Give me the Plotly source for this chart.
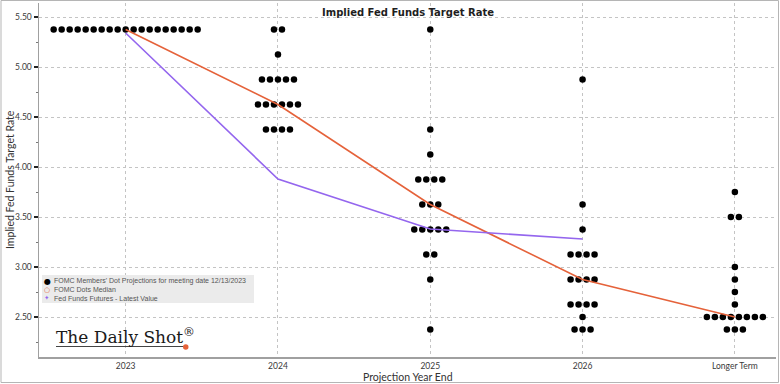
import plotly.graph_objects as go

# ---------------- data ----------------
categories = ["2023", "2024", "2025", "2026", "Longer Term"]

# FOMC members' dot projections: rate levels and number of dots at each level
dot_levels_2023 = [5.375]
dot_counts_2023 = [19]

dot_levels_2024 = [5.375, 5.125, 4.875, 4.625, 4.375]
dot_counts_2024 = [2, 1, 5, 6, 4]

dot_levels_2025 = [5.375, 4.375, 4.125, 3.875, 3.625, 3.375, 3.125, 2.875, 2.375]
dot_counts_2025 = [1, 1, 1, 4, 3, 5, 2, 1, 1]

dot_levels_2026 = [4.875, 3.625, 3.375, 3.125, 2.875, 2.625, 2.5, 2.375]
dot_counts_2026 = [1, 1, 1, 4, 4, 4, 1, 3]

dot_levels_lt = [3.75, 3.5, 3.0, 2.875, 2.75, 2.625, 2.5, 2.375]
dot_counts_lt = [1, 2, 1, 1, 1, 1, 8, 3]

median_values = [5.375, 4.625, 3.625, 2.875, 2.5]
futures_categories = ["2023", "2024", "2025", "2026"]
futures_values = [5.34, 3.88, 3.38, 3.28]

y_tick_values = [2.5, 3.0, 3.5, 4.0, 4.5, 5.0, 5.5]

# ---------------- layout constants ----------------
W, H = 780, 384
L, R, T, B = 39, 776, 3, 357
PW, PH = R - L, B - T
X_RANGE = [-0.569, 4.27]
Y_RANGE = [2.10, 5.64]
DOT_SPACING = 8 / 152.3  # horizontal spacing of dots in category units


def px_x(px):
    return (px - L) / PW


def px_y(py):
    return (B - py) / PH


cat_index = {c: i for i, c in enumerate(categories)}

all_levels = [dot_levels_2023, dot_levels_2024, dot_levels_2025, dot_levels_2026, dot_levels_lt]
all_counts = [dot_counts_2023, dot_counts_2024, dot_counts_2025, dot_counts_2026, dot_counts_lt]

dot_x, dot_y = [], []
for ci, (levels, counts) in enumerate(zip(all_levels, all_counts)):
    for lv, n in zip(levels, counts):
        for k in range(n):
            dot_x.append(ci + (k - (n - 1) / 2) * DOT_SPACING)
            dot_y.append(lv)

ORANGE = "#E5623A"
PURPLE = "#9466EE"

fig = go.Figure()
fig.add_trace(go.Scatter(
    x=dot_x, y=dot_y, mode="markers",
    marker=dict(color="black", size=6.5, line=dict(width=0)),
    showlegend=False, hoverinfo="skip"))
fig.add_trace(go.Scatter(
    x=[cat_index[c] for c in categories], y=median_values, mode="lines",
    line=dict(color=ORANGE, width=1.6), showlegend=False))
fig.add_trace(go.Scatter(
    x=[cat_index[c] for c in futures_categories], y=futures_values, mode="lines",
    line=dict(color=PURPLE, width=1.6), showlegend=False))

tick_font = dict(family="Lato", size=8.5, color="#3a3a3a")

fig.update_layout(
    width=W, height=H,
    margin=dict(l=L, r=W - R, t=T, b=H - B, pad=0, autoexpand=False),
    paper_bgcolor="white", plot_bgcolor="white",
    showlegend=False,
    xaxis=dict(
        range=X_RANGE, tickmode="array",
        tickvals=list(range(len(categories))), ticktext=categories,
        showgrid=True, gridcolor="#c4c4c4", griddash="dot", gridwidth=1,
        showline=True, linecolor="#a0a0a0", linewidth=1.5,
        ticks="", tickfont=tick_font, zeroline=False, fixedrange=True,
        automargin=False),
    yaxis=dict(
        range=Y_RANGE, tickmode="array",
        tickvals=y_tick_values, ticktext=[f"{v:.2f}" for v in y_tick_values],
        showgrid=True, gridcolor="#c4c4c4", griddash="dot", gridwidth=1,
        showline=True, linecolor="#a0a0a0", linewidth=1.5,
        ticks="outside", ticklen=4, tickwidth=1.5, tickcolor="#222222",
        minor=dict(tickvals=[2.25, 2.75, 3.25, 3.75, 4.25, 4.75, 5.25],
                   ticks="outside", ticklen=2, tickwidth=1, tickcolor="#777777", showgrid=False),
        tickfont=tick_font, zeroline=False, fixedrange=True, automargin=False),
)

annotations = []
# title
annotations.append(dict(
    xref="paper", yref="paper", x=px_x(408), y=px_y(12),
    text="<b>Implied Fed Funds Target Rate</b>", showarrow=False,
    font=dict(family="DejaVu Sans", size=10, color="#1e1e1e"),
    xanchor="center", yanchor="middle"))
# y-axis title
annotations.append(dict(
    xref="paper", yref="paper", x=px_x(10), y=px_y(180),
    text="Implied Fed Funds Target Rate", showarrow=False, textangle=-90,
    font=dict(family="Lato", size=10.5, color="#333333"),
    xanchor="center", yanchor="middle"))
# x-axis title
annotations.append(dict(
    xref="paper", yref="paper", x=px_x(408), y=px_y(376.5),
    text="Projection Year End", showarrow=False,
    font=dict(family="Lato", size=10.5, color="#333333"),
    xanchor="center", yanchor="middle"))

# legend (drawn manually to match the compact Bloomberg legend)
legend_items = [
    ("●", "black", 8, "FOMC Members' Dot Projections for meeting date 12/13/2023"),
    ("○", ORANGE, 7, "FOMC Dots Median"),
    ("✦", PURPLE, 6.5, "Fed Funds Futures - Latest Value"),
]
legend_rows_py = [281, 289.5, 298]
for (sym, col, ssize, label), py in zip(legend_items, legend_rows_py):
    annotations.append(dict(
        xref="paper", yref="paper", x=px_x(47), y=px_y(py), text=sym, showarrow=False,
        font=dict(family="DejaVu Sans", size=ssize, color=col),
        xanchor="center", yanchor="middle"))
    annotations.append(dict(
        xref="paper", yref="paper", x=px_x(51.5), y=px_y(py), text=label, showarrow=False,
        font=dict(family="Liberation Sans", size=7, color="#555555"),
        xanchor="left", yanchor="middle"))

# logo
annotations.append(dict(
    xref="paper", yref="paper", x=px_x(54), y=px_y(336),
    text="The Daily Shot<sup>®</sup>", showarrow=False,
    font=dict(family="DejaVu Serif", size=17, color="#1a1a1a"),
    xanchor="left", yanchor="middle"))

fig.update_layout(annotations=annotations)

shapes = [
    dict(type="rect", xref="paper", yref="paper", layer="above",
         x0=px_x(42), x1=px_x(254), y0=px_y(303), y1=px_y(275),
         fillcolor="#ebebeb", line=dict(width=0)),
    dict(type="line", xref="paper", yref="paper", layer="above",
         x0=px_x(56), x1=px_x(184), y0=px_y(346.5), y1=px_y(346.5),
         line=dict(color="#444444", width=1.2)),
    dict(type="circle", xref="paper", yref="paper", layer="above",
         x0=px_x(183), x1=px_x(188.5), y0=px_y(349.7), y1=px_y(344.3),
         fillcolor=ORANGE, line=dict(width=0)),
    dict(type="rect", xref="paper", yref="paper", layer="above",
         x0=px_x(1), x1=px_x(778.5), y0=px_y(382.5), y1=px_y(0.5),
         fillcolor="rgba(0,0,0,0)", line=dict(color="#b5b5b5", width=1)),
]
fig.update_layout(shapes=shapes)

fig.write_html(
    "out.html",
    config={"displayModeBar": False, "staticPlot": True},
    post_script="document.body.style.margin='0';document.body.style.overflow='hidden';")
